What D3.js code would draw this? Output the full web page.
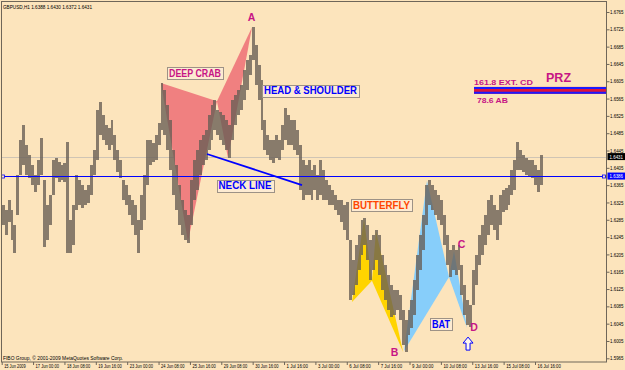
<!DOCTYPE html>
<html><head><meta charset="utf-8">
<script src="https://cdn.jsdelivr.net/npm/d3@7"></script>
<style>html,body{margin:0;padding:0;background:#fce4bc;} svg{display:block;}</style>
</head><body>
<svg id="c" width="625" height="370"></svg>
<script>
// ---------------- DATA ----------------
const symbolInfo = "GBPUSD,H1  1.6388 1.6430 1.6372 1.6431";
const copyright = "FIBO Group, \u00A9 2001-2009 MetaQuotes Software Corp.";
const timeLabels = ["15 Jun 2009","17 Jun 00:00","18 Jun 08:00","19 Jun 16:00","23 Jun 00:00","24 Jun 08:00",
  "25 Jun 16:00","29 Jun 08:00","30 Jun 16:00","1 Jul 16:00","3 Jul 00:00","6 Jul 08:00","7 Jul 16:00",
  "9 Jul 00:00","10 Jul 08:00","13 Jul 16:00","15 Jul 08:00","16 Jul 16:00"];
const timeLabelBars = [0,32,64,96,128,160,192,224,256,288,320,352,384,416,448,480,512,544];
const priceTicks = [1.6765,1.6725,1.6685,1.6645,1.6605,1.6565,1.6525,1.6485,1.6445,1.6405,1.6365,
  1.6325,1.6285,1.6245,1.6205,1.6165,1.6125,1.6085,1.6045,1.6005,1.5965];
const bidPrice = 1.6431;
const hLinePrice = 1.6386;
const hoursPerSample = 3;
const highs = [1.6319,1.6308,1.6331,1.6308,1.6273,1.6389,1.6469,1.6504,1.6458,1.6435,1.6412,1.6389,1.6423,1.6474,1.6377,1.6319,1.6342,1.6423,1.6428,1.6419,1.6412,
  1.6416,
  1.6465,1.6285,1.6319,1.6389,1.6377,1.6365,1.6354,1.6365,1.6412,1.6446,
  1.6539,1.6557,1.6527,1.6504,1.6497,1.6516,1.6481,1.6446,1.6423,1.6377,
  1.6365,1.6342,1.6331,1.6319,1.6285,1.6342,1.6389,1.6469,1.6469,1.6462,
  1.6481,1.6509,1.6601,1.6585,1.6550,1.6516,1.6446,1.6412,1.6365,1.6331,
  1.6308,1.6296,1.6377,1.6423,1.6446,1.6469,1.6481,1.6492,1.6527,1.6550,
  1.6562,
  1.6539,1.6534,
  1.6527,1.6516,1.6504,1.6562,1.6573,1.6585,1.6596,1.6631,1.6654,1.6666,
  1.6730,1.6689,1.6643,1.6608,1.6516,1.6481,1.6469,1.6469,1.6481,1.6469,
  1.6504,1.6543,1.6527,1.6516,1.6516,1.6492,1.6458,1.6423,1.6412,1.6423,
  1.6400,1.6412,1.6389,1.6423,1.6400,1.6377,1.6365,1.6354,1.6342,1.6331,
  1.6331,1.6319,1.6326,1.6239,1.6193,1.6227,1.6250,1.6285,1.6289,1.6273,
  1.6239,
  1.6250,
  1.6262,1.6250,1.6204,1.6181,1.6158,1.6135,1.6123,1.6123,1.6112,1.6077,
  1.6054,1.6077,1.6100,1.6146,1.6204,1.6250,1.6296,1.6365,1.6377,1.6365,
  1.6354,1.6342,1.6331,1.6296,1.6250,1.6216,1.6227,1.6216,1.6227,1.6181,
  1.6135,1.6100,1.6088,1.6170,1.6204,1.6250,1.6273,1.6296,1.6331,1.6342,
  1.6319,1.6308,1.6342,1.6354,1.6358,1.6365,1.6400,1.6423,1.6465,1.6446,
  1.6435,1.6428,
  1.6423,
  1.6423,1.6412,1.6400,1.6435];
const lows = [1.6273,1.6250,1.6280,1.6239,1.6209,1.6296,1.6389,1.6412,1.6389,1.6382,1.6365,1.6349,1.6365,1.6389,1.6222,1.6239,1.6273,1.6342,1.6382,1.6373,1.6377,
  1.6373,
  1.6209,1.6209,1.6227,1.6308,1.6319,1.6312,1.6319,1.6324,1.6342,1.6389,
  1.6423,1.6481,1.6469,1.6458,1.6446,1.6458,1.6423,1.6396,1.6382,1.6331,
  1.6319,1.6296,1.6273,1.6250,1.6209,1.6262,1.6285,1.6365,1.6412,1.6419,
  1.6423,1.6458,1.6492,1.6481,1.6446,1.6400,1.6342,1.6308,1.6273,1.6250,
  1.6239,1.6232,1.6273,1.6331,1.6354,1.6389,1.6412,1.6423,1.6446,1.6469,
  1.6492,
  1.6481,1.6469,
  1.6458,1.6446,1.6428,1.6469,1.6504,1.6527,1.6539,1.6562,1.6585,1.6620,
  1.6654,1.6596,1.6562,1.6492,1.6446,1.6435,1.6423,1.6416,1.6428,1.6423,
  1.6446,1.6469,1.6458,1.6458,1.6446,1.6435,1.6354,1.6331,1.6342,1.6342,
  1.6331,1.6354,1.6331,1.6342,1.6331,1.6331,1.6319,1.6319,1.6308,1.6296,
  1.6280,1.6262,1.6239,1.6100,1.6112,1.6135,1.6170,1.6204,1.6227,1.6193,
  1.6146,
  1.6170,
  1.6193,1.6158,1.6123,1.6100,1.6077,1.6061,1.6065,1.6077,1.6054,1.5996,
  1.5980,1.6019,1.6035,1.6065,1.6123,1.6170,1.6216,1.6273,1.6319,1.6308,
  1.6296,1.6285,1.6273,1.6227,1.6181,1.6153,1.6170,1.6158,1.6170,1.6112,
  1.6065,1.6042,1.6038,1.6088,1.6135,1.6181,1.6204,1.6227,1.6250,1.6273,
  1.6262,1.6239,1.6273,1.6303,1.6308,1.6319,1.6342,1.6354,1.6400,1.6400,
  1.6396,1.6389,
  1.6384,
  1.6382,1.6365,1.6349,1.6365];
// harmonic patterns: X, A, B, C, D as [hour bar, price]
const crabPoints = [[162.5,1.6601],[190.0,1.6234],[219.6,1.6559],[230.8,1.6428],[255.3,1.6730]];
const butterflyPoints = [[357.3,1.6095],[369.6,1.6287],[377.7,1.6144],[381.8,1.6259],[409.4,1.5980]];
const batPoints = [[410.4,1.5982],[433.8,1.6375],[456.3,1.6153],[461.4,1.6213],[474.7,1.6035]];
const neckLine = [[209.4,1.6437],[306.3,1.6365]];
const przStartBar = 481.8;
const przPrices = [1.6592,1.6576];
const arrowPoint = [475.7,1.6014];
const boxedLabels = [
  {text:"DEEP CRAB", bar:197.2, price:1.6624},
  {text:"HEAD & SHOULDER", bar:315.0, price:1.6583},
  {text:"NECK LINE", bar:248.2, price:1.6364},
  {text:"BUTTERFLY", bar:387.4, price:1.6319},
  {text:"BAT", bar:448.1, price:1.6044}
];
const pointLabels = [
  {text:"A", bar:254.8, price:1.6752},
  {text:"B", bar:400.7, price:1.5978},
  {text:"C", bar:469.0, price:1.6228},
  {text:"D", bar:481.8, price:1.6036}
];
const przLabels = [
  {text:"161.8 EXT. CD", bar:481.8, price:1.6603},
  {text:"PRZ", bar:568.0, price:1.6613},
  {text:"78.6 AB", bar:484.8, price:1.6561}
];

// ---------------- STYLE ----------------
const BG = "#fce4bc", FRAME = "#6f6659", BAR = "#665e54";
const BLUE = "#0000ff", MAG = "#c71585", ORANGE = "#ff4500";
const labelStyle = {
  "DEEP CRAB":{color:MAG, w:52},
  "HEAD & SHOULDER":{color:BLUE, w:93},
  "NECK LINE":{color:BLUE, w:53},
  "BUTTERFLY":{color:ORANGE, w:57},
  "BAT":{color:BLUE, w:18},
  "161.8 EXT. CD":{color:MAG, w:59, size:8},
  "PRZ":{color:MAG, w:25, size:12},
  "78.6 AB":{color:MAG, w:31, size:8}
};
const FONT = "'Liberation Sans', Arial, sans-serif";

const svg = d3.select("#c");
const W = 625, H = 370;
const plot = {left:1.5, top:1.5, right:606.5, bottom:362};
svg.append("rect").attr("width", W).attr("height", H).attr("fill", BG);

const x = d3.scaleLinear().domain([0, 544]).range([1.7, 535]);
const y = d3.scaleLinear().domain([1.5965, 1.6765]).range([358.3, 12]);

svg.append("clipPath").attr("id", "clip").append("rect")
  .attr("x", plot.left).attr("y", plot.top)
  .attr("width", plot.right - plot.left).attr("height", plot.bottom - plot.top);
const g = svg.append("g").attr("clip-path", "url(#clip)");

// bid line
g.append("line").attr("x1", plot.left).attr("x2", plot.right)
  .attr("y1", Math.round(y(bidPrice)) + 0.5).attr("y2", Math.round(y(bidPrice)) + 0.5)
  .attr("stroke", "#cfc4b4").attr("stroke-width", 1);

// pattern triangles
function tri(pts, color) {
  [[0,1,2],[2,3,4]].forEach(ix => {
    g.append("polygon")
      .attr("points", ix.map(i => x(pts[i][0]) + "," + y(pts[i][1])).join(" "))
      .attr("fill", color);
  });
}
tri(crabPoints, "#f08080");
tri(butterflyPoints, "#ffd400");
tri(batPoints, "#87cefa");

// price bars
const step = x(hoursPerSample) - x(0);
g.selectAll("rect.bar").data(highs).join("rect").attr("class", "bar")
  .attr("x", (d, i) => x(i * hoursPerSample))
  .attr("width", step)
  .attr("y", d => y(d))
  .attr("height", (d, i) => y(lows[i]) - y(d))
  .attr("fill", BAR).attr("opacity", 0.78)
  .attr("shape-rendering", "crispEdges");

// horizontal blue line
const hy = Math.round(y(hLinePrice)) + 0.5;
g.append("line").attr("x1", plot.left).attr("x2", plot.right).attr("y1", hy).attr("y2", hy)
  .attr("stroke", BLUE).attr("stroke-width", 1);
[plot.left + 1.5, plot.right - 2.5].forEach(cx => {
  g.append("rect").attr("x", cx - 1.5).attr("y", hy - 1.5).attr("width", 3).attr("height", 3)
    .attr("fill", BG).attr("stroke", BLUE).attr("stroke-width", 0.8);
});

// neck line
g.append("line")
  .attr("x1", x(neckLine[0][0])).attr("y1", y(neckLine[0][1]))
  .attr("x2", x(neckLine[1][0])).attr("y2", y(neckLine[1][1]))
  .attr("stroke", BLUE).attr("stroke-width", 1.8);

// PRZ band
const pTop = y(przPrices[0]), pBot = y(przPrices[1]);
g.append("rect").attr("x", x(przStartBar)).attr("y", pTop).attr("width", plot.right - x(przStartBar))
  .attr("height", pBot - pTop).attr("fill", "#dc143c");
[pTop + 1, pBot - 1].forEach(yy => g.append("line").attr("x1", x(przStartBar)).attr("x2", plot.right)
  .attr("y1", yy).attr("y2", yy).attr("stroke", "#1a1aff").attr("stroke-width", 2));

// boxed labels
boxedLabels.forEach(d => {
  const st = labelStyle[d.text];
  const cx = x(d.bar), cy = y(d.price);
  g.append("rect").attr("x", Math.round(cx - st.w / 2 - 2) + 0.5).attr("y", Math.round(cy - 6) + 0.5)
    .attr("width", Math.round(st.w + 4)).attr("height", 12)
    .attr("fill", "#fdebd2").attr("stroke", "#9d9286").attr("stroke-width", 1);
  g.append("text").attr("x", cx - st.w / 2).attr("y", cy + 3.6)
    .attr("textLength", st.w).attr("lengthAdjust", "spacingAndGlyphs")
    .attr("font-family", FONT).attr("font-weight", "bold").attr("font-size", 10)
    .attr("fill", st.color).text(d.text);
});

// point labels
pointLabels.forEach(d => {
  g.append("text").attr("x", x(d.bar)).attr("y", y(d.price) + 3.8).attr("text-anchor", "middle")
    .attr("font-family", FONT).attr("font-weight", "bold").attr("font-size", 10.5)
    .attr("fill", MAG).text(d.text);
});

// PRZ labels
przLabels.forEach(d => {
  const st = labelStyle[d.text];
  const px = d.text === "PRZ" ? x(d.bar) - st.w / 2 : x(d.bar);
  g.append("text").attr("x", px).attr("y", y(d.price) + st.size * 0.36)
    .attr("textLength", st.w).attr("lengthAdjust", "spacingAndGlyphs")
    .attr("font-family", FONT).attr("font-weight", "bold").attr("font-size", st.size)
    .attr("fill", st.color).text(d.text);
});

// arrow (hollow up arrow)
{
  const ax = x(arrowPoint[0]), ay = y(arrowPoint[1]);
  const p = `M${ax},${ay} L${ax+5},${ay+6} L${ax+2},${ay+6} L${ax+2},${ay+13} L${ax-2},${ay+13} L${ax-2},${ay+6} L${ax-5},${ay+6} Z`;
  g.append("path").attr("d", p).attr("fill", "#fdf6ec").attr("stroke", BLUE).attr("stroke-width", 1);
}

// frame
svg.append("rect").attr("x", plot.left).attr("y", plot.top)
  .attr("width", plot.right - plot.left).attr("height", plot.bottom - plot.top)
  .attr("fill", "none").attr("stroke", FRAME).attr("stroke-width", 1);

// y axis
const yAxis = svg.append("g").attr("transform", `translate(${plot.right},0)`)
  .call(d3.axisRight(y).tickValues(priceTicks).tickSize(3).tickSizeOuter(0).tickFormat(d3.format(".4f")));
yAxis.select(".domain").remove();
yAxis.selectAll(".tick line").attr("stroke", FRAME);
yAxis.selectAll(".tick text").attr("x", 3.5).attr("font-family", FONT).attr("font-size", 5)
  .attr("textLength", 13.5).attr("lengthAdjust", "spacingAndGlyphs").attr("fill", "#000");

// price boxes on axis
[[bidPrice, "#000000"], [hLinePrice, BLUE]].forEach(([v, c]) => {
  const yy = y(v);
  svg.append("rect").attr("x", plot.right + 1).attr("y", yy - 3.5).attr("width", 17.5).attr("height", 7).attr("fill", c);
  svg.append("text").attr("x", plot.right + 3).attr("y", yy + 2).attr("font-family", FONT).attr("font-size", 5)
    .attr("textLength", 13.5).attr("lengthAdjust", "spacingAndGlyphs").attr("fill", "#fff")
    .text(d3.format(".4f")(v));
});

// x axis
const xAxis = svg.append("g").attr("transform", `translate(0,${plot.bottom})`)
  .call(d3.axisBottom(x).tickValues(timeLabelBars).tickSize(3).tickSizeOuter(0)
    .tickFormat((d, i) => timeLabels[i]));
xAxis.select(".domain").remove();
xAxis.selectAll(".tick line").attr("stroke", FRAME);
xAxis.selectAll(".tick text").attr("text-anchor", "start").attr("x", 2).attr("y", 2).attr("dy", "0.71em")
  .attr("font-family", FONT).attr("font-size", 5)
  .attr("fill", "#000")
  .attr("textLength", (d, i) => timeLabels[i].length * 1.95).attr("lengthAdjust", "spacingAndGlyphs");

// header & footer texts
svg.append("text").attr("x", 3).attr("y", 8.5).attr("font-family", FONT).attr("font-size", 5.5)
  .attr("textLength", 89).attr("lengthAdjust", "spacingAndGlyphs").attr("fill", "#000").text(symbolInfo);
svg.append("text").attr("x", 3).attr("y", 360).attr("font-family", FONT).attr("font-size", 5.5)
  .attr("textLength", 120).attr("lengthAdjust", "spacingAndGlyphs").attr("fill", "#000").text(copyright);
</script>
</body></html>
